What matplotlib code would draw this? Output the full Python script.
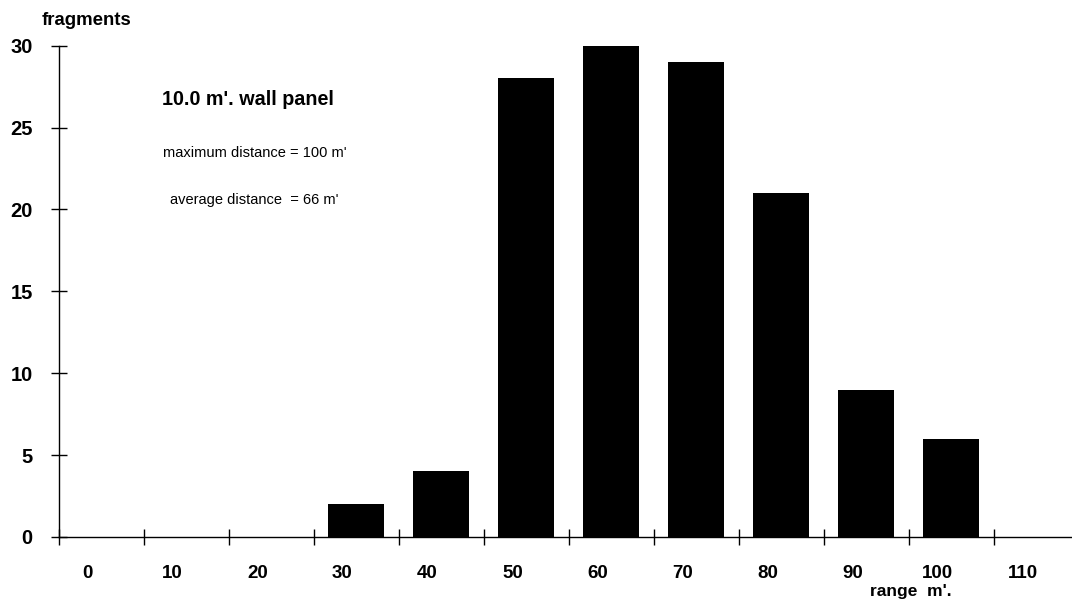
import matplotlib
matplotlib.use("Agg")
import matplotlib.pyplot as plt
import numpy as np

plt.rcParams['font.family'] = ['Liberation Sans', 'DejaVu Sans']

# Data: fragment counts per range class (m')
ranges = [0, 10, 20, 30, 40, 50, 60, 70, 80, 90, 100, 110]
fragments = [0, 0, 0, 2, 4, 28, 30, 29, 21, 9, 6, 0]
y_ticks = [0, 5, 10, 15, 20, 25, 30]

fig = plt.figure(figsize=(10.72, 6.08), dpi=100)
ax = fig.add_axes([0.0546, 0.1168, 0.9515, 0.808])

pos = np.arange(len(ranges))
ax.bar(pos, fragments, width=0.66, color='black')

ax.set_xlim(-0.5, len(ranges) - 0.5)
ax.set_ylim(0, 30)

# tick marks at class boundaries, labels near class centres (slightly left, as in the original)
ax.set_xticks(np.arange(-0.5, len(ranges) - 0.5, 1.0))
ax.set_xticklabels([])
ax.set_xticks(pos - 0.16, minor=True)
ax.set_xticklabels([str(r) for r in ranges], minor=True, fontsize=13.5, fontweight='bold')
ax.tick_params(axis='x', which='major', direction='inout', length=11, width=1)
ax.tick_params(axis='x', which='minor', length=0, pad=20)

ax.set_yticks(y_ticks)
ax.set_yticklabels([str(v) for v in y_ticks], fontsize=14.5, fontweight='bold')
ax.tick_params(axis='y', direction='inout', length=11, width=1, pad=13)

for s in ['top', 'right']:
    ax.spines[s].set_visible(False)
for s in ['left', 'bottom']:
    ax.spines[s].set_linewidth(1)

fig.text(0.039, 0.967, 'fragments', fontsize=13.4, fontweight='bold', va='center')
fig.text(0.8116, 0.027, "range  m'.", fontsize=12.5, fontweight='bold', va='center')

fig.text(0.151, 0.837, "10.0 m'. wall panel", fontsize=14.2, fontweight='bold', va='center')
fig.text(0.152, 0.748, "maximum distance = 100 m'", fontsize=10.5, va='center')
fig.text(0.159, 0.671, "average distance  = 66 m'", fontsize=10.5, va='center')

fig.savefig('out.png', dpi=100)
